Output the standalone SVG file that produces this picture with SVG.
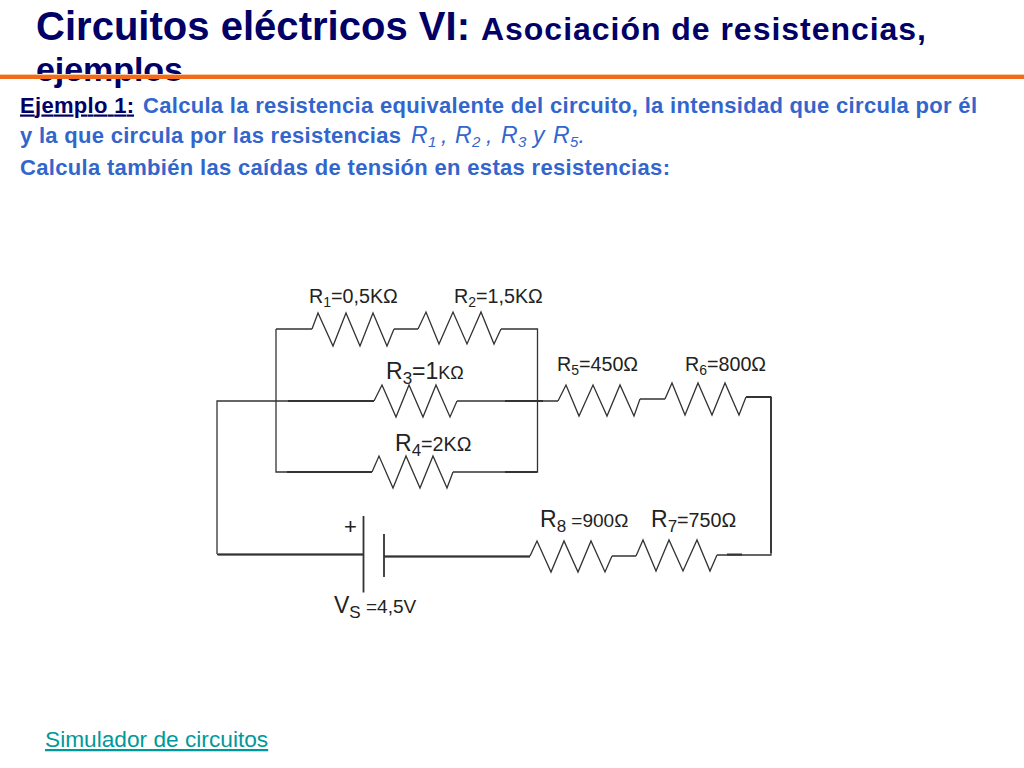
<svg xmlns="http://www.w3.org/2000/svg" width="1024" height="768" viewBox="0 0 1024 768">
<style>
text{font-family:"Liberation Sans",Arial,sans-serif}
.t{fill:#000066;font-weight:700}
.b{fill:#3366cc;font-weight:700;font-size:22px}
.i{fill:#3366cc;font-style:italic;font-size:23px}
.i .u{font-size:15px}
.l{fill:#222;font-size:19.700px}
.s{font-size:14px}
.m{font-size:17px}
.r{font-size:23px}
.w{fill:none;stroke:#333;stroke-width:1.3}
.k{fill:none;stroke:#333;stroke-width:1.8}
</style>
<rect width="1024" height="768" fill="#fff"/>
<g id="title">
<text class="t" x="36" y="40" font-size="40" textLength="434">Circuitos eléctricos VI:</text>
<text class="t" x="481" y="39.500" font-size="32" textLength="445">Asociación de resistencias,</text>
<text class="t" x="36" y="81" font-size="34" textLength="147">ejemplos</text>
<rect x="0" y="74" width="1024" height="1.500" fill="#fbc9a0"/>
<rect x="0" y="75" width="1024" height="4" fill="#f26a1b"/>
</g>
<g id="body">
<text class="b" x="20" y="112.500" style="fill:#000066;text-decoration:underline" textLength="114">Ejemplo 1:</text>
<text class="b" x="143" y="112.500" textLength="834">Calcula la resistencia equivalente del circuito, la intensidad que circula por él</text>
<text class="b" x="20" y="143" textLength="381">y la que circula por las resistencias</text>
<text class="i" y="143"><tspan x="411">R</tspan><tspan class="u" x="428" dy="4">1</tspan><tspan x="441" dy="-4">,</tspan><tspan x="455">R</tspan><tspan class="u" x="472" dy="4">2</tspan><tspan x="486" dy="-4">,</tspan><tspan x="501">R</tspan><tspan class="u" x="518" dy="4">3</tspan><tspan x="533" dy="-4">y</tspan><tspan x="553">R</tspan><tspan class="u" x="570" dy="4">5</tspan><tspan x="578.500" dy="-4">.</tspan></text>
<text class="b" x="20" y="175" textLength="650">Calcula también las caídas de tensión en estas resistencias:</text>
</g>
<g id="connectors">
<path class="w" d="M276 329H312M394 329H418M501 329H537.500V472H453M372 472H276V329"/>
<path class="w" d="M217 554V401H374M457 401H558"/>
<path class="w" d="M640 399H665M746 397H771V555H717M636 556H612M530 556.500H384M363 554.500H217"/>
<path class="k" d="M288 401H374M505 401H543M287 472H372M505 472H537M746 397H771M771 397V553M727 554.500H742M218 554.500H363M384 556.500H530"/>
</g>
<g id="R1"><path class="w" d="M312 329L318 313L333 346L346 313L360 346L373 313L387 346L394 329"/><text class="l" x="309" y="303">R<tspan class="s" dy="4">1</tspan><tspan dy="-4">=0,5KΩ</tspan></text></g>
<g id="R2"><path class="w" d="M418 329L426 312L439 344L453 312L467 344L481 312L494 344L501 329"/><text class="l" x="454" y="303">R<tspan class="s" dy="4">2</tspan><tspan dy="-4">=1,5KΩ</tspan></text></g>
<g id="R3"><path class="w" d="M374 401L382 385L396 417L409 385L423 417L436 385L450 417L457 401"/><text class="l" x="386" y="379"><tspan class="r">R</tspan><tspan class="m" dy="5">3</tspan><tspan class="r" dy="-5">=1</tspan><tspan font-size="18">KΩ</tspan></text></g>
<g id="R4"><path class="w" d="M372 472L379 456L393 488L406 456L420 488L433 456L447 488L453 472"/><text class="l" x="395" y="451"><tspan class="r">R</tspan><tspan class="m" dy="5">4</tspan><tspan dy="-5">=2KΩ</tspan></text></g>
<g id="R5"><path class="w" d="M558 401L566 385L579 416L593 385L607 416L620 385L634 416L640 399"/><text class="l" x="557" y="371">R<tspan class="s" dy="4">5</tspan><tspan dy="-4">=450Ω</tspan></text></g>
<g id="R6"><path class="w" d="M665 399L672 383L685 415L698 383L712 415L725 383L739 415L746 397"/><text class="l" x="685" y="371">R<tspan class="s" dy="4">6</tspan><tspan dy="-4">=800Ω</tspan></text></g>
<g id="R7"><path class="w" d="M636 556L643 540L656 571L669 540L683 571L697 540L710 571L717 555"/><text class="l" x="651" y="527"><tspan class="r">R</tspan><tspan class="m" dy="5">7</tspan><tspan dy="-5">=750Ω</tspan></text></g>
<g id="R8"><path class="w" d="M530 556L537 541L551 572L564 541L578 572L591 541L605 572L612 556"/><text class="l" x="540" y="527"><tspan class="r">R</tspan><tspan class="m" dy="5">8</tspan><tspan dy="-5" font-size="19"> =900Ω</tspan></text></g>
<g id="VS"><path class="k" d="M363.500 516V592.500M384 534V577"/><text class="l" x="344" y="534" font-size="22" style="font-size:22px">+</text><text class="l" x="334" y="613"><tspan class="r">V</tspan><tspan class="m" dy="5">S</tspan><tspan dy="-5" font-size="19"> =4,5V</tspan></text></g>
<g id="link"><text x="45" y="747" font-size="22.700" fill="#009999" text-decoration="underline">Simulador de circuitos</text></g>
</svg>
